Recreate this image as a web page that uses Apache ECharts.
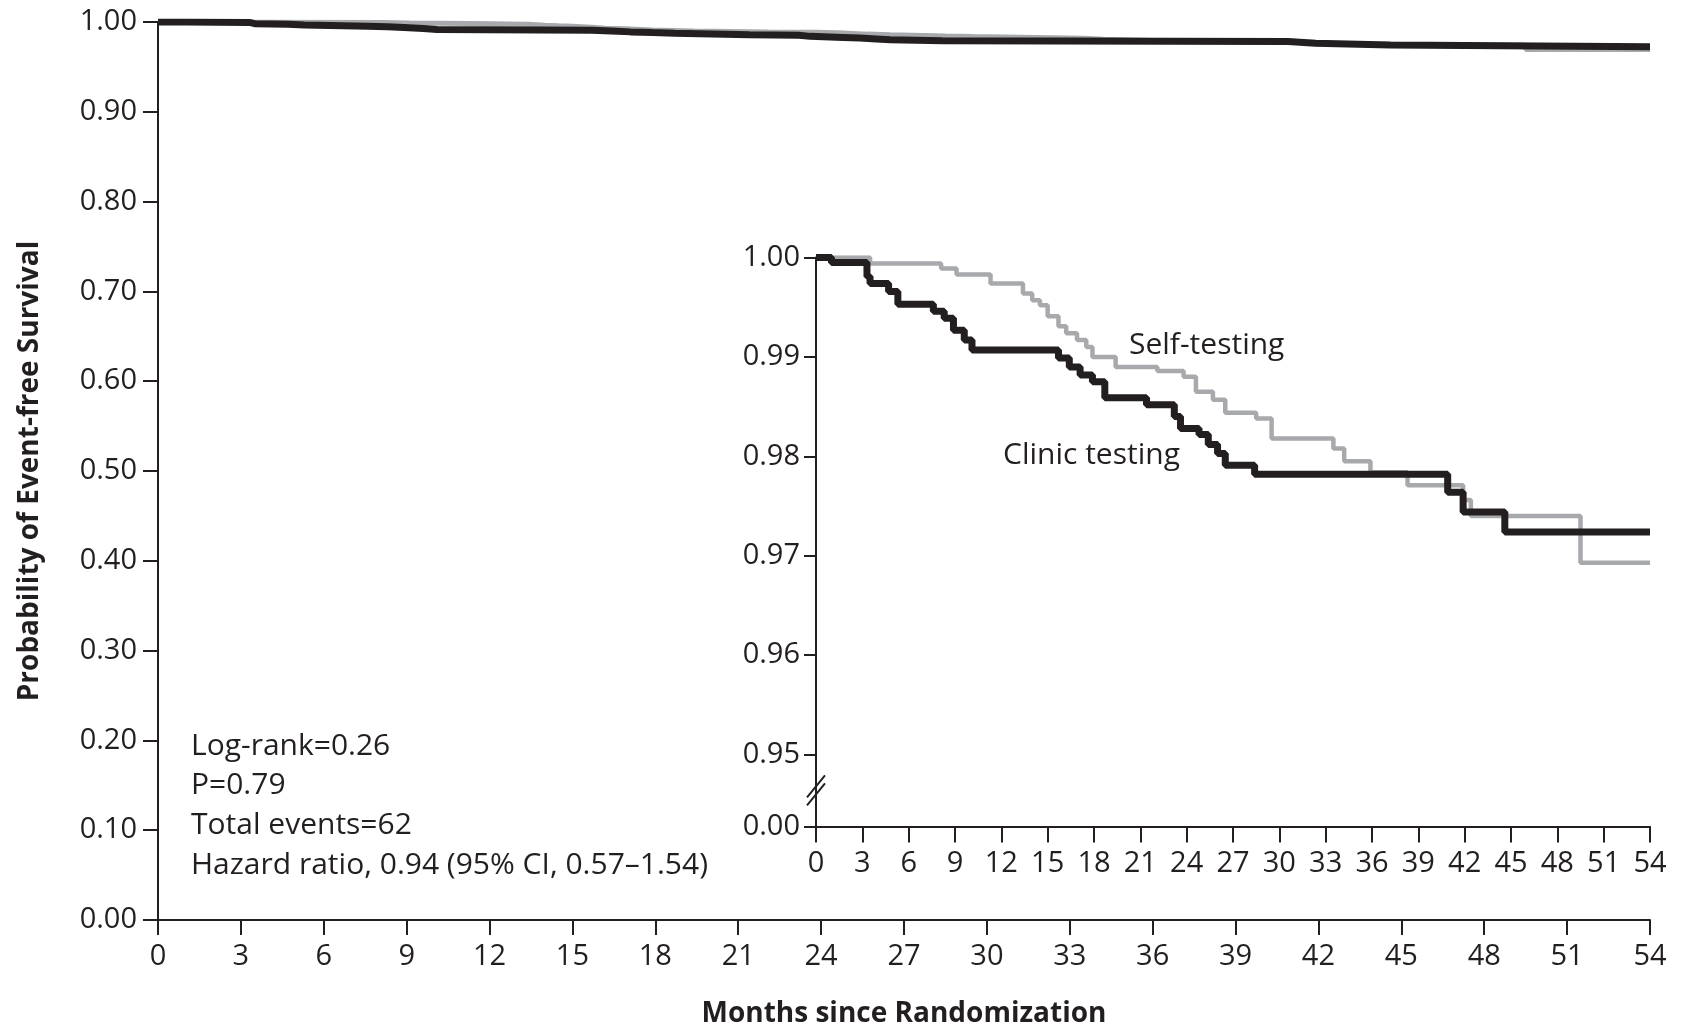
<!DOCTYPE html>
<html>
<head>
<meta charset="utf-8">
<title>Event-free Survival</title>
<script src="https://cdn.jsdelivr.net/npm/echarts@6/dist/echarts.min.js"></script>
<style>
  html, body { margin: 0; padding: 0; background: #fff; }
  #chart { width: 1683px; height: 1028px; }
</style>
</head>
<body>
<div id="chart"></div>
<script>
// month of each step and survival just after it (Kaplan-Meier)
const clinicMonths = [0, 1.0, 3.3, 3.5, 4.7, 5.3, 7.6, 8.3, 8.9, 9.6, 10.1, 15.7, 16.4, 17.1, 17.9, 18.7, 21.4, 23.2, 23.6, 24.8, 25.4, 26.0, 26.5, 28.4, 40.9, 41.9, 44.6, 54]
const clinicSurvival = [1.0, 0.9995, 0.9981, 0.9974, 0.9966, 0.9953, 0.9946, 0.9939, 0.9927, 0.9917, 0.9907, 0.9899, 0.9890, 0.9882, 0.9875, 0.9859, 0.9852, 0.9840, 0.9828, 0.9822, 0.9812, 0.9803, 0.9791, 0.9782, 0.9764, 0.9744, 0.9724, 0.9724]
const selfMonths = [0, 3.5, 8.1, 9.1, 11.3, 13.4, 14.0, 14.5, 15.0, 15.7, 16.2, 16.9, 17.5, 17.9, 19.4, 22.1, 23.8, 24.6, 25.7, 26.5, 28.5, 29.5, 33.5, 34.2, 35.9, 38.3, 41.9, 42.4, 49.5, 54]
const selfSurvival = [1.0, 0.9994, 0.9989, 0.9983, 0.9974, 0.9964, 0.9957, 0.9952, 0.9941, 0.9931, 0.9924, 0.9917, 0.9910, 0.9900, 0.9890, 0.9886, 0.9880, 0.9865, 0.9857, 0.9844, 0.9838, 0.9818, 0.9808, 0.9795, 0.9784, 0.9771, 0.9756, 0.9740, 0.9693, 0.9693]

// inset y axis: 0.95-1.00, then a break down to 0.00
const insetTicks = [0.95, 0.96, 0.97, 0.98, 0.99, 1.0]
const insetBase = 0.94277 // where "0.00" sits under the break
const statsLines = ['Log-rank=0.26', 'P=0.79', 'Total events=62', 'Hazard ratio, 0.94 (95% CI, 0.57\u20131.54)']

;(function () {
  const font = 'Open Sans'
  const ink = '#231f20'
  const grey = '#a7a9ac'

  const pairs = (ms, vs) => ms.map((m, i) => [m, vs[i]])

  const axisBits = (tickLen, labelMargin) => ({
    axisLine: { show: true, onZero: false, lineStyle: { color: ink, width: 2 } },
    axisTick: { show: true, length: tickLen, lineStyle: { color: ink, width: 2 } },
    axisLabel: { margin: labelMargin, fontFamily: font, fontSize: 29, color: ink },
    splitLine: { show: false },
  })

  let myChart = echarts.init(document.getElementById('chart'))
  let options = {
    animation: false,
    backgroundColor: '#fff',
    grid: [
      { left: 158, right: 33, top: 22, bottom: 108, outerBoundsMode: 'none' },
      { left: 816, right: 33, top: 257.6, bottom: 201.6, outerBoundsMode: 'none' },
    ],
    xAxis: [
      Object.assign(
        {
          gridIndex: 0,
          type: 'value',
          min: 0,
          max: 54,
          interval: 3,
          name: 'Months since Randomization',
          nameLocation: 'middle',
          nameGap: 80,
          nameTextStyle: { fontFamily: font, fontWeight: 'bold', fontSize: 28, color: ink },
        },
        axisBits(15, 22)
      ),
      Object.assign(
        {
          gridIndex: 1,
          type: 'value',
          min: 0,
          max: 54,
          interval: 3,
        },
        axisBits(16, 23)
      ),
    ],
    yAxis: [
      Object.assign(
        {
          gridIndex: 0,
          type: 'value',
          min: 0,
          max: 1,
          interval: 0.1,
          name: 'Probability of Event-free Survival',
          nameLocation: 'middle',
          nameGap: 114,
          nameTextStyle: { fontFamily: font, fontWeight: 'bold', fontSize: 28, color: ink },
        },
        axisBits(15, 21)
      ),
      Object.assign(
        {
          gridIndex: 1,
          type: 'value',
          min: insetBase,
          max: 1,
        },
        axisBits(12, 16)
      ),
    ],
    series: [
      {
        name: 'Self-testing',
        type: 'line',
        xAxisIndex: 0,
        yAxisIndex: 0,
        step: 'end',
        symbol: 'none',
        lineStyle: { color: grey, width: 5 },
        data: pairs(selfMonths, selfSurvival),
      },
      {
        name: 'Clinic testing',
        type: 'line',
        xAxisIndex: 0,
        yAxisIndex: 0,
        step: 'end',
        symbol: 'none',
        lineStyle: { color: ink, width: 7 },
        data: pairs(clinicMonths, clinicSurvival),
      },
      {
        name: 'Self-testing',
        type: 'line',
        xAxisIndex: 1,
        yAxisIndex: 1,
        step: 'end',
        symbol: 'none',
        lineStyle: { color: grey, width: 4.5 },
        data: pairs(selfMonths, selfSurvival),
      },
      {
        name: 'Clinic testing',
        type: 'line',
        xAxisIndex: 1,
        yAxisIndex: 1,
        step: 'end',
        symbol: 'none',
        lineStyle: { color: ink, width: 7 },
        data: pairs(clinicMonths, clinicSurvival),
      },
    ],
  }
  options.xAxis.forEach((a) => {
    a.axisLabel.formatter = (v) => String(v)
  })
  options.yAxis[0].axisLabel.formatter = (v) => v.toFixed(2)
  const insetValues = [insetBase].concat(insetTicks)
  options.yAxis[1].axisTick.customValues = insetValues
  options.yAxis[1].axisLabel.customValues = insetValues
  options.yAxis[1].axisLabel.formatter = (v) => (v < 0.945 ? '0.00' : v.toFixed(2))

  myChart.setOption(options)

  // notes, curve labels and the // mark on the inset axis
  const txt = (s, x, y) => ({
    type: 'text',
    x: x,
    y: y,
    style: { text: s, font: '30px "Open Sans"', fill: ink, verticalAlign: 'middle', align: 'left' },
  })
  const graphic = statsLines.map((s, i) => txt(s, 191, 746 + i * 39.8))
  graphic.push(txt('Self-testing', 1129, 345))
  graphic.push(txt('Clinic testing', 1003, 455))

  const brk = myChart.convertToPixel({ xAxisIndex: 1, yAxisIndex: 1 }, [0, 0.9464])
  graphic.push({
    type: 'rect',
    shape: { x: brk[0] - 4, y: brk[1] - 5, width: 8, height: 10 },
    style: { fill: '#fff' },
  })
  ;[-4, 4].forEach((d) => {
    graphic.push({
      type: 'line',
      shape: { x1: brk[0] - 9, y1: brk[1] + d + 11, x2: brk[0] + 9, y2: brk[1] + d - 11 },
      style: { stroke: ink, lineWidth: 2 },
    })
  })
  myChart.setOption({ graphic: graphic })

  window.addEventListener('resize', () => {
    myChart.resize()
  })
})()
</script>
</body>
</html>
